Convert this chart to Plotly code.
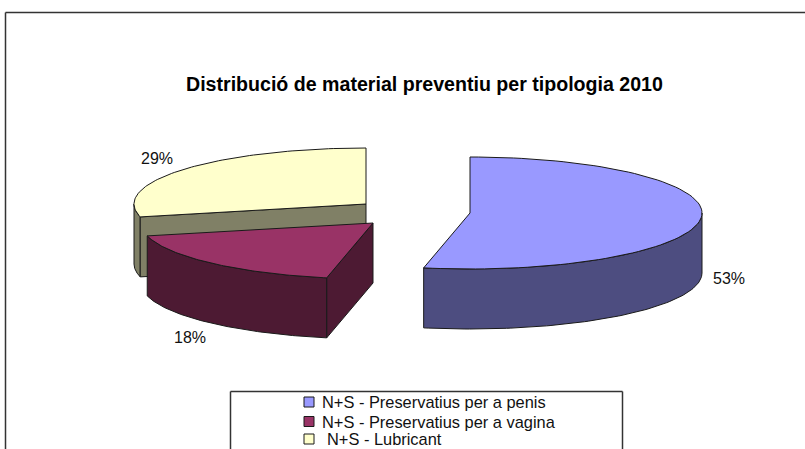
import numpy as np
import plotly.graph_objects as go

labels = ["N+S - Preservatius per a penis", "N+S - Preservatius per a vagina", "N+S - Lubricant"]
shares = [53.2, 18.1, 28.7]
pct_text = ["53%", "18%", "29%"]
top_colors = ["#9999FF", "#993366", "#FFFFCC"]
side_colors = ["#4D4D80", "#4D1A33", "#808066"]
title = "Distribució de material preventiu per tipologia 2010"

W, H = 805, 449
RX, RY, DEPTH = 232, 56, 60
centers = [(470, 213), (373, 223), (366, 204)]
label_xy = [(729, 280), (190, 339), (157, 160)]
LINE = dict(color="#1a1a1a", width=1)

fig = go.Figure()

def arc(cx, cy, a0, a1, n=90):
    t = np.radians(np.linspace(a0, a1, n))
    return cx + RX * np.sin(t), cy - RY * np.cos(t)

def poly(x, y, color):
    fig.add_trace(go.Scatter(x=list(x), y=list(y), mode="lines", fill="toself", fillcolor=color,
                             line=LINE, showlegend=False, hoverinfo="skip"))

def wall(cx, cy, a0, a1, color):
    x, y = arc(cx, cy, a0, a1)
    poly(np.r_[x, x[::-1], x[0]], np.r_[y, y[::-1] + DEPTH, y[0]], color)

def cut_face(cx, cy, a, color):
    x, y = arc(cx, cy, a, a, 1)
    poly([cx, x[0], x[0], cx, cx], [cy, y[0], y[0] + DEPTH, cy + DEPTH, cy], color)

def top(cx, cy, a0, a1, color):
    x, y = arc(cx, cy, a0, a1)
    poly(np.r_[cx, x, cx], np.r_[cy, y, cy], color)

angles = np.cumsum([0] + shares) * 3.6

# Lubricant slice (drawn first, at the back)
cx, cy = centers[2]
wall(cx, cy, angles[2], 270, side_colors[2])
cut_face(cx, cy, angles[2], side_colors[2])
top(cx, cy, angles[2], angles[3], top_colors[2])

# Vagina slice
cx, cy = centers[1]
cut_face(cx, cy, angles[1], side_colors[1])
wall(cx, cy, angles[1], angles[2], side_colors[1])
top(cx, cy, angles[1], angles[2], top_colors[1])

# Penis slice
cx, cy = centers[0]
wall(cx, cy, 90, angles[1], side_colors[0])
top(cx, cy, angles[0], angles[1], top_colors[0])

# Percentage labels
fig.add_trace(go.Scatter(x=[p[0] for p in label_xy], y=[p[1] for p in label_xy], mode="text",
                         text=pct_text, textposition="middle center",
                         textfont=dict(family="Liberation Sans", size=16, color="#111111"),
                         showlegend=False, hoverinfo="skip"))

# Legend
key_x, text_x = [309, 309, 309], [320, 320, 325]
row_y = [402, 421.5, 439]
fig.add_trace(go.Scatter(x=key_x, y=row_y, mode="markers",
                         marker=dict(symbol="square", size=10, color=top_colors,
                                     line=dict(color="#1a1a1a", width=1)),
                         showlegend=False, hoverinfo="skip"))
for tx, ry, lab in zip(text_x, row_y, labels):
    fig.add_annotation(x=tx, y=ry, text=lab, showarrow=False, xanchor="left", yanchor="middle",
                       font=dict(family="Liberation Sans", size=16.4, color="#111111"))

fig.add_annotation(x=424.5, y=83.5, text="<b>" + title + "</b>", showarrow=False,
                   font=dict(family="Liberation Sans", size=19.6, color="#000000"))

frame = dict(color="#333333", width=1.5)
fig.add_shape(type="line", x0=5.5, x1=805, y0=12.5, y1=12.5, line=frame, layer="below")
fig.add_shape(type="line", x0=5.5, x1=5.5, y0=12.5, y1=449, line=frame, layer="below")
fig.add_shape(type="line", x0=230.5, x1=622.5, y0=391.5, y1=391.5, line=frame, layer="below")
fig.add_shape(type="line", x0=230.5, x1=230.5, y0=391.5, y1=449, line=frame, layer="below")
fig.add_shape(type="line", x0=622.5, x1=622.5, y0=391.5, y1=449, line=frame, layer="below")

fig.update_layout(width=W, height=H, margin=dict(l=0, r=0, t=0, b=0),
                  paper_bgcolor="white", plot_bgcolor="white", showlegend=False,
                  xaxis=dict(range=[0, W], visible=False, fixedrange=True),
                  yaxis=dict(range=[H, 0], visible=False, fixedrange=True))
fig.write_html("out.html", config=dict(displayModeBar=False),
               post_script="document.body.style.margin='0';document.body.style.overflow='hidden';")
